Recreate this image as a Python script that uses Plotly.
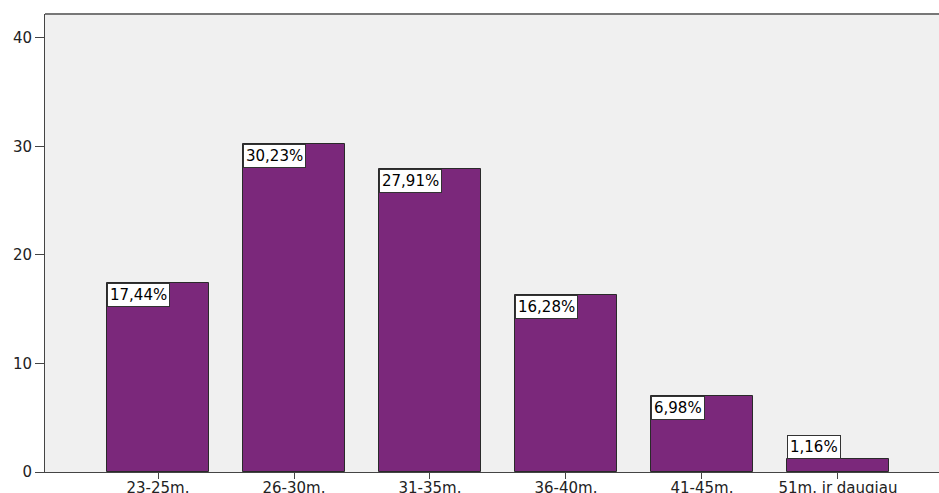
import plotly.graph_objects as go

categories = ["23-25m.", "26-30m.", "31-35m.", "36-40m.", "41-45m.", "51m. ir daugiau"]
percent_values = [17.44, 30.23, 27.91, 16.28, 6.98, 1.16]
pct_labels = ["17,44%", "30,23%", "27,91%", "16,28%", "6,98%", "1,16%"]
y_ticks = [0, 10, 20, 30, 40]

xs = list(range(len(categories)))
bar_w = 0.75
FONT = "DejaVu Sans, Arial"

fig = go.Figure(go.Bar(
    x=xs, y=percent_values, width=bar_w,
    marker=dict(color="#7B287B", line=dict(color="#2a2a2a", width=1)),
    hoverinfo="skip",
))

for x, v, t in zip(xs, percent_values, pct_labels):
    # short bars get their label box sitting on top of the bar
    anchor = "bottom" if v < 3 else "top"
    fig.add_annotation(
        x=x - bar_w / 2, y=v, xref="x", yref="y",
        text=t, showarrow=False, xanchor="left", yanchor=anchor,
        bgcolor="white", bordercolor="#333", borderwidth=1, borderpad=2,
        font=dict(family=FONT, size=15, color="black"),
    )

fig.add_shape(type="line", xref="paper", yref="paper", x0=0, x1=1, y0=1, y1=1,
              line=dict(color="#777", width=2))

fig.update_layout(
    width=939, height=493,
    margin=dict(l=45, r=0, t=14, b=21),
    paper_bgcolor="white", plot_bgcolor="#F0F0F0",
    showlegend=False,
    bargap=0,
    font=dict(family=FONT, size=15, color="#222"),
    xaxis=dict(
        range=[-0.831, 5.743], tickmode="array", tickvals=xs, ticktext=categories,
        showgrid=False, zeroline=False, showline=True, linecolor="#444", linewidth=1,
        ticks="outside", ticklen=6, tickcolor="#444", tickwidth=1,
        tickfont=dict(family=FONT, size=15, color="#222"), automargin=False,
        ticklabelstandoff=-4,
    ),
    yaxis=dict(
        range=[0, 42.2], tickmode="array", tickvals=y_ticks,
        showgrid=False, zeroline=False, showline=True, linecolor="#444", linewidth=1,
        ticks="outside", ticklen=9, tickcolor="#444", tickwidth=1,
        tickfont=dict(family=FONT, size=15, color="#222"), automargin=False,
    ),
)

fig.write_html("out.html", config={"displayModeBar": False},
               post_script="document.body.style.margin='0px';")
